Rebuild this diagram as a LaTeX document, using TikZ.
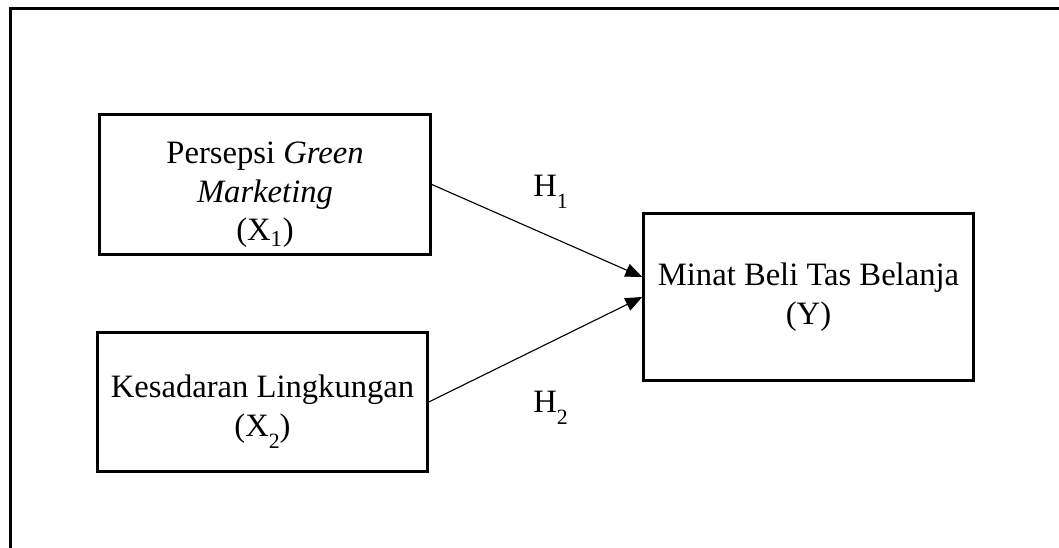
\documentclass[tikz,border=0pt]{standalone}
\usepackage{fontspec}
\setmainfont{Liberation Serif}
\usetikzlibrary{arrows.meta, positioning}
\tikzstyle{varbox} = [rectangle, draw=black, line width=1.8pt, minimum width=8.28cm, minimum height=3.5cm, text centered, align=center, font=\fontsize{23.2}{27.7}\selectfont]
\tikzstyle{arrow} = [line width=0.8pt, -{Triangle[length=4.2mm, width=3.4mm]}]
\tikzstyle{hypolabel} = [anchor=base west, inner sep=0pt, font=\fontsize{23.2}{27.7}\selectfont]
\tikzstyle{outerframe} = [draw=black, line width=2pt]
\newcommand{\lowsub}[1]{\raisebox{-0.38em}{\fontsize{15.5}{15.5}\selectfont #1}}
\newcommand{\topgap}{\rule{0pt}{1.05cm}}

\begin{document}
\begin{tikzpicture}

		\useasboundingbox (0,0) rectangle (26.475,-13.675);

		% outer frame (runs off the page right and bottom)
		\draw[outerframe] (0.2625,-0.2125) rectangle (27,-14.5);

		% variables
		\node (varX1)[varbox] at (6.625,-4.6125) {\topgap Persepsi \textit{Green}\\ \textit{Marketing}\\ (X\textsubscript{1})};
		\node (varX2)[varbox, minimum width=8.25cm, minimum height=3.475cm] at (6.5625,-10.05) {\topgap Kesadaran Lingkungan\\ (X\lowsub{2})};
		\node (varY)[varbox, minimum width=8.25cm, minimum height=4.175cm] at (20.2125,-7.425) {Minat Beli Tas Belanja\\ (Y)};

		% hypotheses
		\node (hypH1)[hypolabel] at (13.325,-4.9) {H\lowsub{1}};
		\node (hypH2)[hypolabel] at (13.325,-10.3) {H\lowsub{2}};

		% lines and arrows
		\draw[arrow] (varX1.east) -- ([yshift=5mm]varY.west);
		\draw[arrow] (varX2.east) -- (varY.west);

\end{tikzpicture}
\end{document}
